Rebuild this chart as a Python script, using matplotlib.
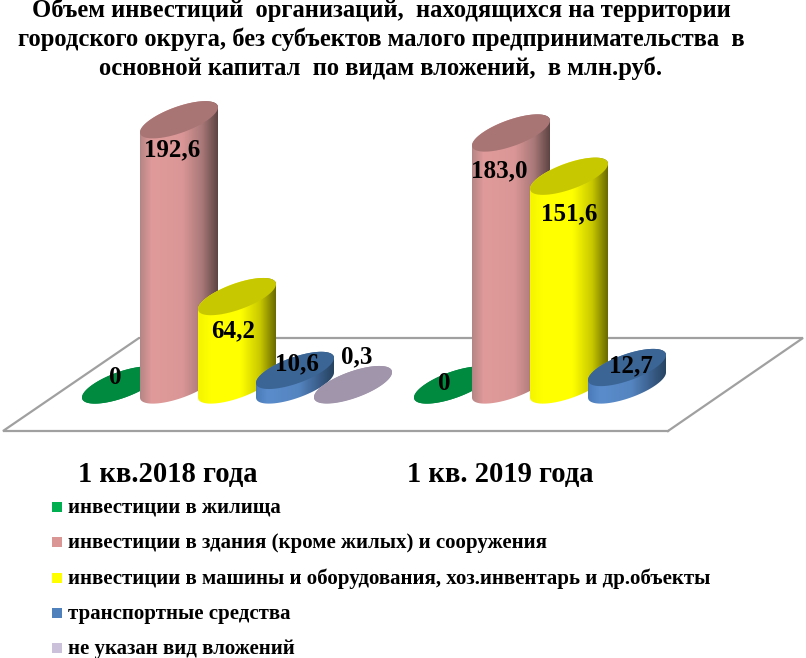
import numpy as np
import matplotlib
matplotlib.use("Agg")
import matplotlib.pyplot as plt
from matplotlib.colors import LinearSegmentedColormap
from matplotlib.patches import PathPatch, Polygon, Rectangle
from matplotlib.path import Path
from matplotlib.transforms import Affine2D

plt.rcParams['font.family'] = ['Liberation Serif', 'DejaVu Serif']

# data
periods = ["1 кв.2018 года", "1 кв. 2019 года"]
series_names = ["инвестиции в жилища",
                "инвестиции в здания (кроме жилых) и сооружения",
                "инвестиции в машины и оборудования, хоз.инвентарь и др.объекты",
                "транспортные средства",
                "не указан вид вложений"]
housing = [0, 0]
buildings = [192.6, 183.0]
machines = [64.2, 151.6]
transport = [10.6, 12.7]
unspecified = [0.3, None]
labels_2018 = ["0", "192,6", "64,2", "10,6", "0,3"]
labels_2019 = ["0", "183,0", "151,6", "12,7"]
title_lines = ["Объем инвестиций  организаций,  находящихся на территории",
               "городского округа, без субъектов малого предпринимательства  в",
               "основной капитал  по видам вложений,  в млн.руб."]

W, H = 806, 658
SLOT = 58.0       # px between cylinders
PX_PER_UNIT = 1.377
X0, Y0 = 121.0, 385.0   # first cylinder, base centre
GROUP_STEP = 332.0 / SLOT

# ellipse shape, px
RX, SHEAR, RY = 39.0, 12.5, 13.8

legend_colors = ["#00b050", "#d99694", "#ffff00", "#4f81bd", "#ccc1da"]
top_colors = ["#008a40", "#a87474", "#c8c800", "#3a6595", "#a095ab"]
side_stops = [0, 0.15, 0.55, 0.8, 1]
side_colors = [
    ["#008a40"] * 5,
    ["#b58585", "#e09a9a", "#da9696", "#a87878", "#5e4444"],
    ["#f4f400", "#ffff00", "#ffff00", "#c8c800", "#6a6a00"],
    ["#4a7ab8", "#5a8ccc", "#5585c0", "#3a5f8c", "#26425f"],
    ["#a095ab"] * 5,
]
# label offsets from the top centre of each cylinder, px
offsets_2018 = [(-6, 8), (-7, -30), (-4, -34), (2, 7), (4, 28)]
offsets_2019 = [(-9, 2), (-12, -38), (0, -38), (4, 2)]

fig = plt.figure(figsize=(W / 100, H / 100), dpi=100)
ax = fig.add_axes([0, 0, 1, 1])
ax.axis("off")
xlim = ((0 - X0) / SLOT, (W - X0) / SLOT)
ylim = ((Y0 - H) / PX_PER_UNIT, Y0 / PX_PER_UNIT)

# pixel coords with y going down, for floor, titles, legend
px = Affine2D().scale(1, -1).translate(0, H)


def ellipse(cx, val, t):
    x = cx + RX / SLOT * np.cos(t)
    y = val + (SHEAR * np.cos(t) + RY * np.sin(t)) / PX_PER_UNIT
    return np.column_stack([x, y])


def cylinder(slot, value, idx, z):
    t_low = np.linspace(np.pi, 2 * np.pi, 60)
    t_up = np.linspace(0, np.pi, 60)
    outline = np.vstack([ellipse(slot, 0, t_low), ellipse(slot, value, t_up)])
    clip = PathPatch(Path(np.vstack([outline, outline[:1]])), transform=ax.transData,
                     fc="none", ec="none")
    ax.add_patch(clip)
    cmap = LinearSegmentedColormap.from_list("side", list(zip(side_stops, side_colors[idx])))
    im = ax.imshow(np.linspace(0, 1, 128)[None, :], cmap=cmap, aspect="auto", zorder=z,
                   extent=(slot - RX / SLOT, slot + RX / SLOT, -30, value + 30),
                   interpolation="bilinear")
    im.set_clip_path(clip)
    ax.add_patch(Polygon(ellipse(slot, value, np.linspace(0, 2 * np.pi, 120)),
                         fc=top_colors[idx], ec="none", zorder=z + 0.5))


# floor outline
floor_x = [668, 803, 139, 3, 668]
floor_y = [431, 338, 338, 431, 431]
ax.plot(floor_x, floor_y, color="#a0a0a0", lw=1.6, transform=px,
        solid_joinstyle="miter", zorder=1)

all_series = [housing, buildings, machines, transport, unspecified]
group_labels = [labels_2018, labels_2019]
group_offsets = [offsets_2018, offsets_2019]
for g in range(len(periods)):
    for i, vals in enumerate(all_series):
        v = vals[g]
        if v is None:
            continue
        slot = g * GROUP_STEP + i
        cylinder(slot, v, i, 2 + i + 6 * g)
        ax.annotate(group_labels[g][i], xy=(slot, v), xytext=group_offsets[g][i],
                    textcoords="offset pixels", ha="center", va="center",
                    fontsize=18, fontweight="bold", color="black", zorder=40)

ax.set_xlim(xlim)
ax.set_ylim(ylim)

# title
for line, y in zip(title_lines, [17, 46, 75]):
    ax.text(381, y, line, transform=px, ha="center", va="baseline",
            fontsize=17.7, fontweight="bold", color="black")

# period captions
for text, x in zip(periods, [168, 500]):
    ax.text(x, 482, text, transform=px, ha="center", va="baseline",
            fontsize=20.6, fontweight="bold", color="black")

# legend
for name, col, y, base in zip(series_names, legend_colors, [507, 542, 578, 613, 648],
                              [513, 548, 584, 619, 654]):
    ax.add_patch(Rectangle((52, y + 5), 10, -10, fc=col, ec="none", transform=px))
    ax.text(68, base, name, transform=px, ha="left", va="baseline",
            fontsize=15, fontweight="bold", color="black")

fig.savefig("out.png", dpi=100, facecolor="white")
